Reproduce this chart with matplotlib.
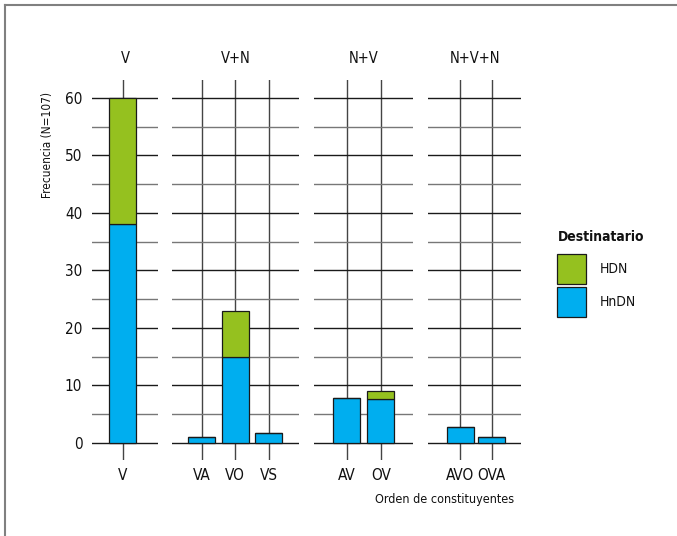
"""Frecuencia por orden de constituyentes y destinatario"""

import matplotlib.pyplot as plt
from matplotlib.legend_handler import HandlerPatch
from matplotlib.lines import Line2D
from matplotlib.patches import Patch
import numpy as np

# fuente estrecha, parecida a la DIN condensada del original
plt.rcParams["font.family"] = ["DejaVu Sans"]
plt.rcParams["font.stretch"] = "condensed"

# datos
paneles = ["V", "V+N", "N+V", "N+V+N"]
categorias = [["V"], ["VA", "VO", "VS"], ["AV", "OV"], ["AVO", "OVA"]]
hndn = [[38], [1, 15, 1.7], [7.8, 7.6], [2.8, 1]]
hdn = [[22], [0, 8, 0], [0, 1.4], [0, 0]]

color_hdn = "#95C11F"
color_hndn = "#00AEEF"

W, H = 677, 536
fig = plt.figure(figsize=(W / 100, H / 100), dpi=100)

# (izquierda, derecha, px de la primera categoria, separacion) en pixeles
geom = [
    (92, 158, 122.5, 30.0),
    (172, 299, 201.7, 33.5),
    (314, 413, 346.7, 34.0),
    (428, 521, 460.0, 31.7),
]
top_px, bot_px = 80, 460
bar_px = 27

for i, (nombre, cats) in enumerate(zip(paneles, categorias)):
    left, right, p0, s = geom[i]
    ax = fig.add_axes([left / W, 1 - bot_px / H, (right - left) / W, (bot_px - top_px) / H])
    x = np.arange(len(cats))
    ax.bar(x, hndn[i], width=bar_px / s, color=color_hndn, edgecolor="#1a1a1a",
           linewidth=0.9, zorder=3)
    ax.bar(x, hdn[i], bottom=hndn[i], width=bar_px / s, color=color_hdn,
           edgecolor="#1a1a1a", linewidth=0.9, zorder=3)
    ax.set_xlim((left - p0) / s, (right - p0) / s)
    ax.set_ylim(-2.96, 63.13)
    ax.set_yticks(np.arange(0, 61, 10))
    ax.set_yticks(np.arange(5, 60, 10), minor=True)
    ax.set_xticks(x, cats)
    ax.grid(axis="y", which="major", color="#1a1a1a", linewidth=1.0, zorder=0)
    ax.grid(axis="y", which="minor", color="#777777", linewidth=1.0, zorder=0)
    ax.grid(axis="x", which="major", color="#444444", linewidth=1.0, zorder=0)
    ax.tick_params(which="both", length=0, labelsize=11, pad=6, labelcolor="#111111")
    ax.tick_params(axis="y", pad=7)
    if i > 0:
        ax.tick_params(axis="y", labelleft=False)
    for sp in ax.spines.values():
        sp.set_visible(False)
    ax.set_facecolor("none")
    ax.set_title(nombre, fontsize=10.5, pad=12, color="#111111")

fig.text(48 / W, 1 - 145 / H, "Frecuencia (N=107)", rotation=90,
         ha="center", va="center", fontsize=8.5, color="#111111")
fig.text(445 / W, 1 - 499 / H, "Orden de constituyentes",
         ha="center", va="center", fontsize=9, color="#111111")

# leyenda: titulo aparte para controlar la separacion
fig.text(558 / W, 1 - 237 / H, "Destinatario", ha="left", va="center",
         fontsize=10, fontweight="bold", color="#111111")
handles = [
    Patch(facecolor=color_hdn, edgecolor="#1a1a1a", linewidth=0.9, label="HDN"),
    Patch(facecolor=color_hndn, edgecolor="#1a1a1a", linewidth=0.9, label="HnDN"),
]
leg = fig.legend(handles=handles, loc="upper left",
                 bbox_to_anchor=(557 / W, 1 - 254 / H), frameon=False,
                 fontsize=10, handlelength=2.1, handleheight=2.95,
                 labelspacing=0.22, handletextpad=1.0, borderpad=0.0,
                 borderaxespad=0.0,
                 handler_map={Patch: HandlerPatch(ypad=0.0)})
for t in leg.get_texts():
    t.set_color("#111111")

# marco superior e izquierdo
fig.add_artist(Line2D([5 / W, 1], [1 - 5 / H, 1 - 5 / H], color="#808080", linewidth=1.5))
fig.add_artist(Line2D([5 / W, 5 / W], [0, 1 - 5 / H], color="#808080", linewidth=1.5))

fig.savefig("out.png", dpi=100, facecolor="white")
